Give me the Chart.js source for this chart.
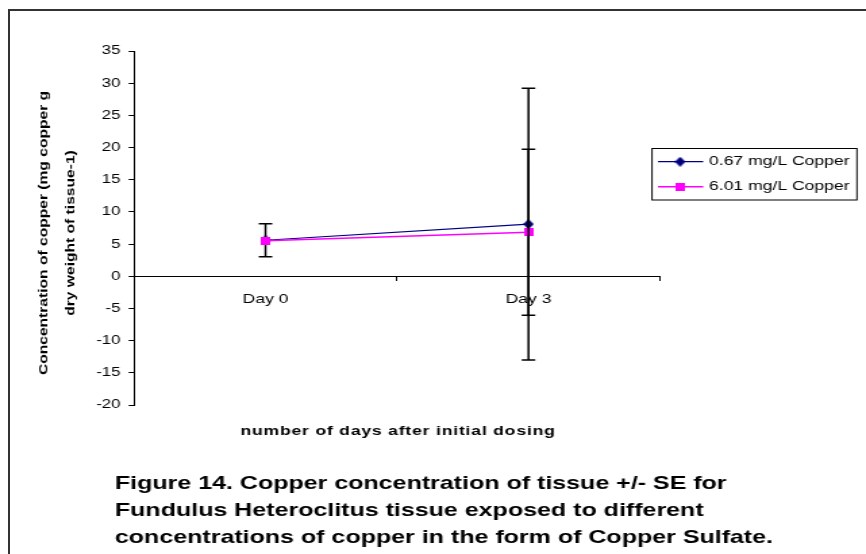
<!DOCTYPE html>
<html>
<head>
<meta charset="utf-8">
<script src="https://cdn.jsdelivr.net/npm/chart.js@4"></script>
<style>
  html, body { margin: 0; padding: 0; background: #fff; overflow: hidden; }
  #wrap { position: relative; width: 866px; height: 554px; overflow: hidden; }
  #frame { position: absolute; left: 8px; top: 9px; width: 900px; height: 600px; border: 2px solid #333; }
  #c { position: absolute; left: 0; top: 0; }
</style>
</head>
<body>
<div id="wrap">
  <div id="frame"></div>
  <!-- drawn narrow then stretched sideways, like the source picture -->
  <canvas id="c" width="641" height="554" style="width:866px;height:554px"></canvas>
</div>
<script>
// data
const categories = ['Day 0', 'Day 3'];
const seriesNames = ['0.67 mg/L Copper', '6.01 mg/L Copper'];
const lowCopper = [5.6, 8.1];
const lowCopperSE = [2.55, 21.1];
const highCopper = [5.5, 6.85];
const highCopperSE = [0, 12.9];
const seList = [lowCopperSE, highCopperSE];

const FONT = "'Liberation Sans', Arial, sans-serif";

// marker images
function makeSquare() {
  const c = document.createElement('canvas');
  c.width = 7; c.height = 8;
  const g = c.getContext('2d');
  g.fillStyle = '#ff00ff';
  g.fillRect(0, 0, 7, 8);
  return c;
}
function makeDiamond() {
  const c = document.createElement('canvas');
  c.width = 8; c.height = 10;
  const g = c.getContext('2d');
  g.fillStyle = '#000080';
  g.beginPath();
  g.moveTo(4, 0); g.lineTo(8, 5); g.lineTo(4, 10); g.lineTo(0, 5);
  g.closePath(); g.fill();
  return c;
}
const diamond = makeDiamond();
const square = makeSquare();

const errorBars = {
  id: 'errorBars',
  afterDatasetDraw(chart, args) {
    const errs = seList[args.index];
    const ds = chart.data.datasets[args.index];
    const y = chart.scales.y;
    const ctx = chart.ctx;
    ctx.save();
    ctx.strokeStyle = '#000';
    ctx.lineWidth = 1.5;
    args.meta.data.forEach((pt, j) => {
      const e = errs[j];
      if (!e) return;
      const top = y.getPixelForValue(ds.data[j] + e);
      const bot = y.getPixelForValue(ds.data[j] - e);
      ctx.beginPath();
      ctx.moveTo(pt.x, top); ctx.lineTo(pt.x, bot);
      ctx.moveTo(pt.x - 5, top); ctx.lineTo(pt.x + 5, top);
      ctx.moveTo(pt.x - 5, bot); ctx.lineTo(pt.x + 5, bot);
      ctx.stroke();
    });
    ctx.restore();
  }
};

const decor = {
  id: 'decor',
  afterDraw(chart) {
    const ctx = chart.ctx;
    ctx.save();
    ctx.fillStyle = '#000';

    // y title, rotated and squeezed
    const yLines = ['Concentration of copper (mg copper g', 'dry weight of tissue-1)'];
    const yX = [32.6, 52.6];
    yLines.forEach((t, i) => {
      ctx.save();
      ctx.translate(yX[i], 233);
      ctx.rotate(-Math.PI / 2);
      ctx.scale(1, 0.6);
      ctx.font = 'bold 15.6px ' + FONT;
      ctx.textAlign = 'center';
      ctx.textBaseline = 'middle';
      ctx.fillText(t, 0, 0);
      ctx.restore();
    });

    // x title
    ctx.font = 'bold 13px ' + FONT;
    ctx.letterSpacing = '0.6px';
    ctx.textAlign = 'center';
    ctx.textBaseline = 'middle';
    ctx.fillText('number of days after initial dosing', 294.6, 431);
    ctx.letterSpacing = '0px';

    // legend
    ctx.strokeStyle = '#000';
    ctx.lineWidth = 1;
    ctx.strokeRect(482.6, 148.5, 151.7, 51.5);
    const cols = ['#000080', '#ff00ff'];
    const marks = [diamond, square];
    const rowY = [161.7, 186.7];
    ctx.font = '13px ' + FONT;
    ctx.textAlign = 'left';
    seriesNames.forEach((n, i) => {
      ctx.strokeStyle = cols[i];
      ctx.lineWidth = i === 0 ? 1.2 : 1.5;
      ctx.beginPath();
      ctx.moveTo(487, rowY[i]); ctx.lineTo(520.5, rowY[i]);
      ctx.stroke();
      const m = marks[i];
      ctx.drawImage(m, 503.4 - m.width / 2, rowY[i] - m.height / 2);
      ctx.fillText(n, 524.8, rowY[i]);
    });

    // caption
    ctx.font = 'bold 18.5px ' + FONT;
    ctx.textBaseline = 'alphabetic';
    const cap = [
      'Figure 14. Copper concentration of tissue +/- SE for',
      'Fundulus Heteroclitus tissue exposed to different',
      'concentrations of copper in the form of Copper Sulfate.'
    ];
    cap.forEach((t, i) => ctx.fillText(t, 85, 489 + i * 27));
    ctx.restore();
  }
};

new Chart(document.getElementById('c'), {
  type: 'line',
  data: {
    labels: categories,
    datasets: [
      {
        label: seriesNames[0],
        data: lowCopper,
        borderColor: '#000080',
        backgroundColor: '#000080',
        borderWidth: 1.2,
        pointStyle: diamond,
        pointRadius: 4,
        order: 1
      },
      {
        label: seriesNames[1],
        data: highCopper,
        borderColor: '#ff00ff',
        backgroundColor: '#ff00ff',
        borderWidth: 1.5,
        pointStyle: square,
        pointRadius: 4,
        order: 0
      }
    ]
  },
  options: {
    responsive: false,
    animation: false,
    devicePixelRatio: 1,
    layout: { padding: { left: 0, top: 51, right: 152.5, bottom: 149 } },
    plugins: {
      legend: { display: false },
      tooltip: { enabled: false }
    },
    scales: {
      x: {
        type: 'category',
        position: { y: 0 },
        offset: true,
        grid: { offset: true, drawOnChartArea: false, drawTicks: true, tickLength: 4, color: '#000' },
        border: { display: true, color: '#000', width: 1 },
        ticks: { color: '#000', padding: 11, font: { family: FONT, size: 13 } }
      },
      y: {
        min: -20,
        max: 35,
        afterFit: s => { s.width = 99.2; },
        grid: { drawOnChartArea: false, drawTicks: true, tickLength: 4, color: '#000' },
        border: { display: true, color: '#000', width: 1 },
        ticks: { stepSize: 5, color: '#000', padding: 6, font: { family: FONT, size: 12.5 } }
      }
    }
  },
  plugins: [errorBars, decor]
});
</script>
</body>
</html>
